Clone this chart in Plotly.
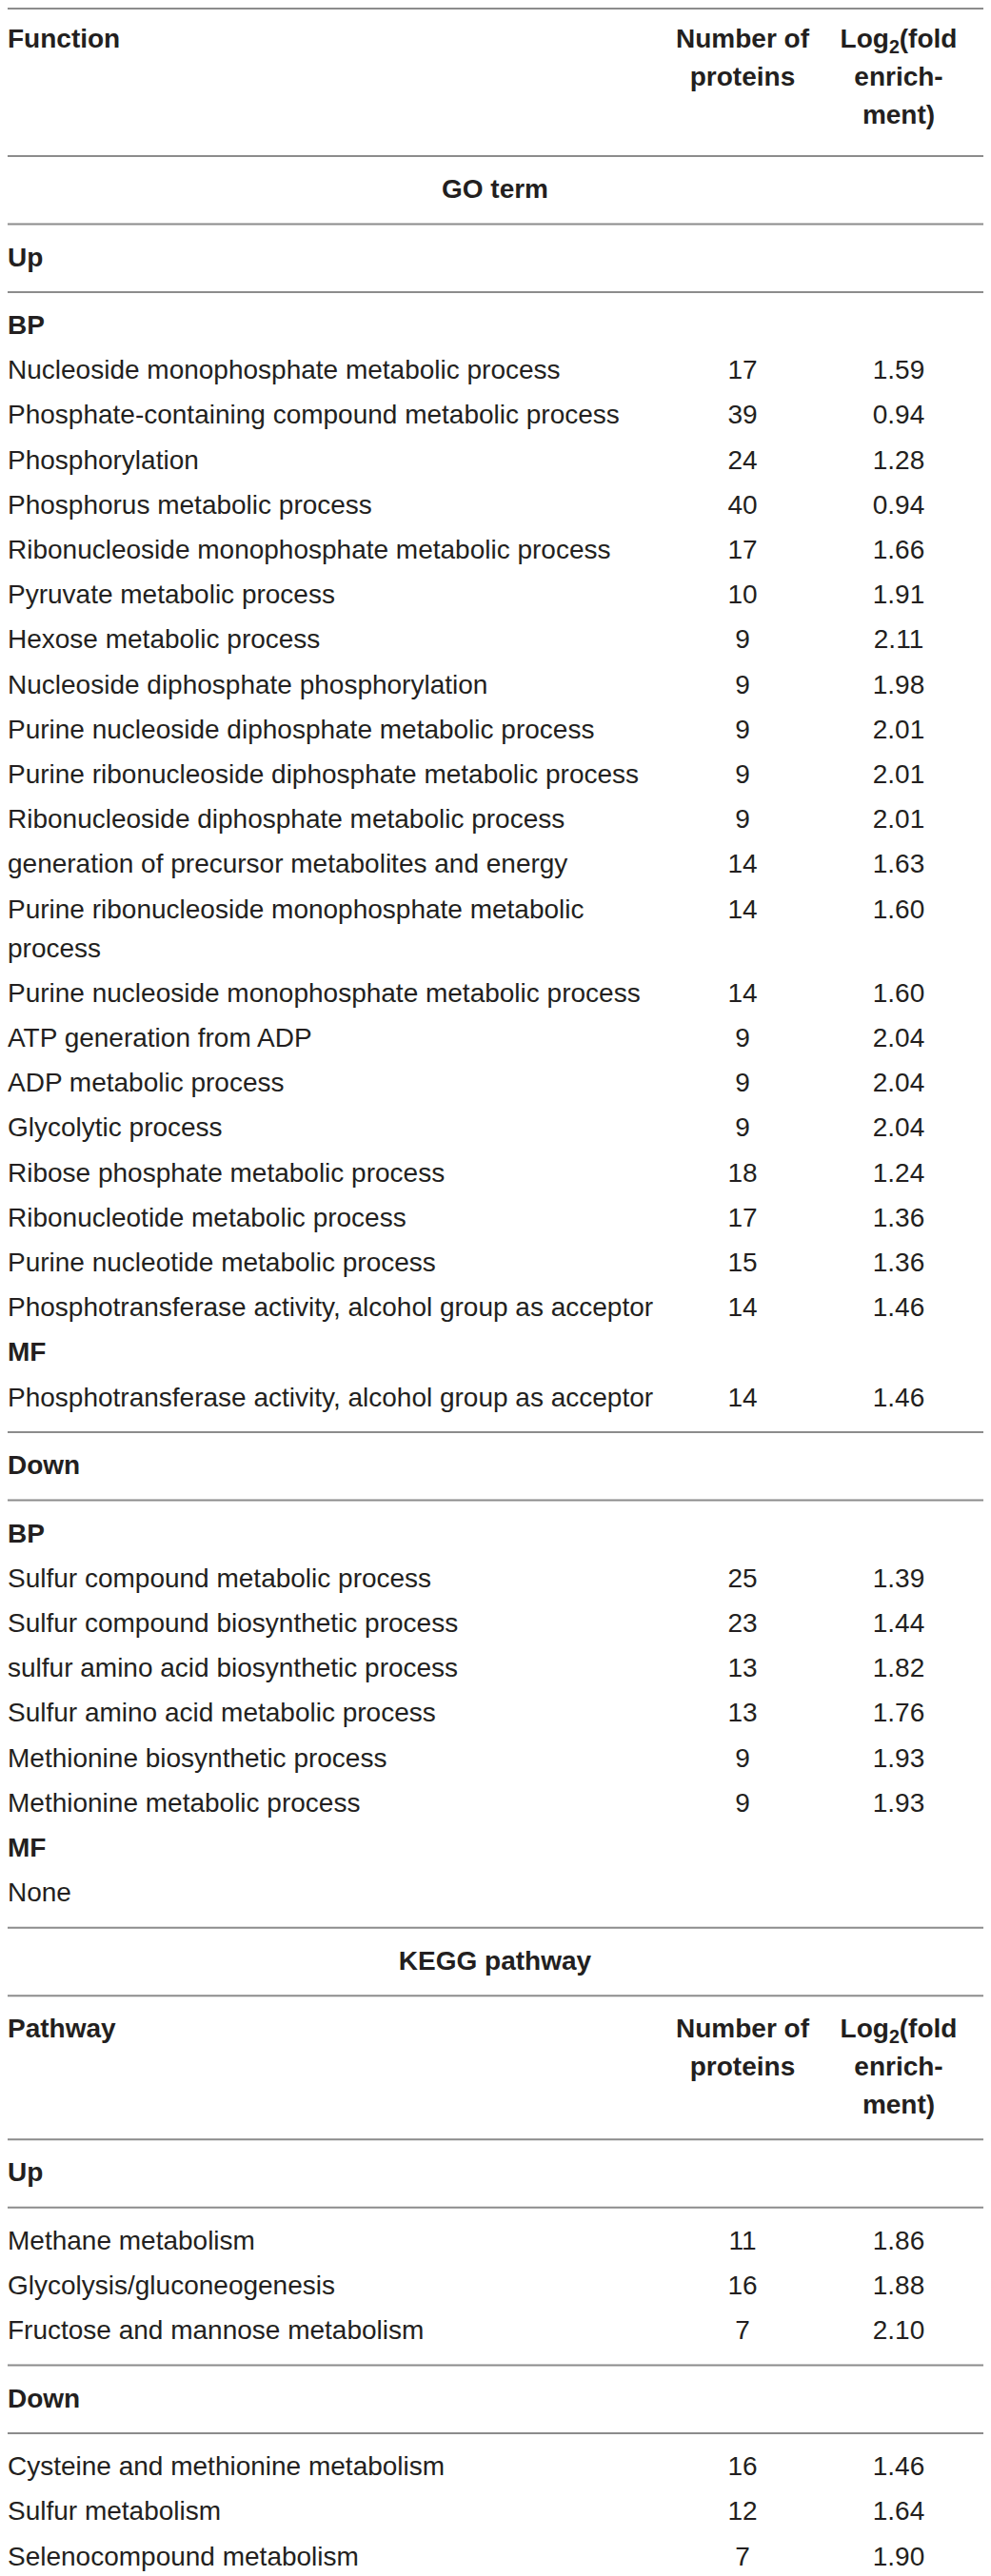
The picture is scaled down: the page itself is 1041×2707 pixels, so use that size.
import plotly.graph_objects as go

# GO term, up-regulated proteins
go_up_bp_terms = [
    "Nucleoside monophosphate metabolic process",
    "Phosphate-containing compound metabolic process",
    "Phosphorylation",
    "Phosphorus metabolic process",
    "Ribonucleoside monophosphate metabolic process",
    "Pyruvate metabolic process",
    "Hexose metabolic process",
    "Nucleoside diphosphate phosphorylation",
    "Purine nucleoside diphosphate metabolic process",
    "Purine ribonucleoside diphosphate metabolic process",
    "Ribonucleoside diphosphate metabolic process",
    "generation of precursor metabolites and energy",
    "Purine ribonucleoside monophosphate metabolic\nprocess",
    "Purine nucleoside monophosphate metabolic process",
    "ATP generation from ADP",
    "ADP metabolic process",
    "Glycolytic process",
    "Ribose phosphate metabolic process",
    "Ribonucleotide metabolic process",
    "Purine nucleotide metabolic process",
    "Phosphotransferase activity, alcohol group as acceptor",
]
go_up_bp_counts = [17, 39, 24, 40, 17, 10, 9, 9, 9, 9, 9, 14, 14, 14, 9, 9, 9, 18, 17, 15, 14]
go_up_bp_log2fe = [1.59, 0.94, 1.28, 0.94, 1.66, 1.91, 2.11, 1.98, 2.01, 2.01, 2.01,
                   1.63, 1.60, 1.60, 2.04, 2.04, 2.04, 1.24, 1.36, 1.36, 1.46]

go_up_mf_terms = ["Phosphotransferase activity, alcohol group as acceptor"]
go_up_mf_counts = [14]
go_up_mf_log2fe = [1.46]

# GO term, down-regulated proteins
go_down_bp_terms = [
    "Sulfur compound metabolic process",
    "Sulfur compound biosynthetic process",
    "sulfur amino acid biosynthetic process",
    "Sulfur amino acid metabolic process",
    "Methionine biosynthetic process",
    "Methionine metabolic process",
]
go_down_bp_counts = [25, 23, 13, 13, 9, 9]
go_down_bp_log2fe = [1.39, 1.44, 1.82, 1.76, 1.93, 1.93]

# KEGG pathway
kegg_up_terms = ["Methane metabolism", "Glycolysis/gluconeogenesis", "Fructose and mannose metabolism"]
kegg_up_counts = [11, 16, 7]
kegg_up_log2fe = [1.86, 1.88, 2.10]

kegg_down_terms = ["Cysteine and methionine metabolism", "Sulfur metabolism", "Selenocompound metabolism"]
kegg_down_counts = [16, 12, 7]
kegg_down_log2fe = [1.46, 1.64, 1.90]

count_head = ["Number of", "proteins"]
fe_head = ["Log<sub>2</sub>(fold", "enrich-", "ment)"]

# layout (pixels of the page; the page body has an 8px margin)
W, H = 1041, 2707
BODY = 8
FONT = "Liberation Sans, Arial, Helvetica, sans-serif"
SIZE = 28
TXT = "#231f20"
RULE = "#8c8c8c"
X_LABEL, X_COUNT, X_FE, X_MID = BODY, 780, 944, 520
PITCH = 47.2      # text row to text row
FIRST = 37        # rule -> first text
LAST = 34.5       # last text -> rule
HEAD_PITCH = 40   # lines inside column header
WRAP_PITCH = 41   # second line of a wrapped label

marks = {"reg_left": [], "bold_left": [], "reg_mid": [], "bold_mid": []}
rules = [BODY + 1]   # top rule, kept just inside the plot
state = {"y": 6.0, "after_rule": True}


def next_y():
    y = state["y"] + (FIRST if state["after_rule"] else PITCH)
    state["y"] = y
    state["after_rule"] = False
    return y


def rule(gap=LAST):
    state["y"] += gap
    rules.append(state["y"])
    state["after_rule"] = True


def header(first_col, gap):
    y = next_y()
    marks["bold_left"].append((X_LABEL, y, first_col))
    for i, line in enumerate(count_head):
        marks["bold_mid"].append((X_COUNT, y + i * HEAD_PITCH, line))
    for i, line in enumerate(fe_head):
        marks["bold_mid"].append((X_FE, y + i * HEAD_PITCH, line))
    state["y"] = y + (len(fe_head) - 1) * HEAD_PITCH
    rule(gap)


def title(text):
    marks["bold_mid"].append((X_MID, next_y(), text))
    rule()


def subhead(text):
    marks["bold_left"].append((X_LABEL, next_y(), text))


def items(terms, counts, fe):
    for t, n, f in zip(terms, counts, fe):
        y = next_y()
        lines = t.split("\n")
        for i, line in enumerate(lines):
            marks["reg_left"].append((X_LABEL, y + i * WRAP_PITCH, line))
        marks["reg_mid"].append((X_COUNT, y, str(n)))
        marks["reg_mid"].append((X_FE, y, "{:.2f}".format(f)))
        state["y"] = y + (len(lines) - 1) * WRAP_PITCH


header("Function", 41)
title("GO term")
subhead("Up")
rule()
subhead("BP")
items(go_up_bp_terms, go_up_bp_counts, go_up_bp_log2fe)
subhead("MF")
items(go_up_mf_terms, go_up_mf_counts, go_up_mf_log2fe)
rule()
subhead("Down")
rule()
subhead("BP")
items(go_down_bp_terms, go_down_bp_counts, go_down_bp_log2fe)
subhead("MF")
marks["reg_left"].append((X_LABEL, next_y(), "None"))
rule()
title("KEGG pathway")
header("Pathway", 34)
subhead("Up")
rule()
items(kegg_up_terms, kegg_up_counts, kegg_up_log2fe)
rule()
subhead("Down")
rule()
items(kegg_down_terms, kegg_down_counts, kegg_down_log2fe)

fig = go.Figure()
for key, m in marks.items():
    bold = key.startswith("bold")
    fig.add_trace(go.Scatter(
        x=[p[0] for p in m],
        y=[p[1] for p in m],
        text=[("<b>%s</b>" % p[2]) if bold else p[2] for p in m],
        mode="text",
        textposition="middle right" if key.endswith("left") else "middle center",
        textfont=dict(family=FONT, size=SIZE, color=TXT),
        hoverinfo="skip",
        cliponaxis=False,
    ))

for ry in rules:
    fig.add_shape(type="line", xref="x", yref="y", x0=BODY, x1=1037, y0=ry, y1=ry,
                  line=dict(color=RULE, width=2))

# the plot sits 8px in from the page corner, so the axes start at 8
fig.update_layout(
    width=W - BODY, height=H - BODY,
    margin=dict(l=0, r=0, t=0, b=0),
    paper_bgcolor="white", plot_bgcolor="white",
    showlegend=False,
    xaxis=dict(range=[BODY, W], visible=False, fixedrange=True),
    yaxis=dict(range=[H, BODY], visible=False, fixedrange=True),
)

fig.write_html("out.html")
